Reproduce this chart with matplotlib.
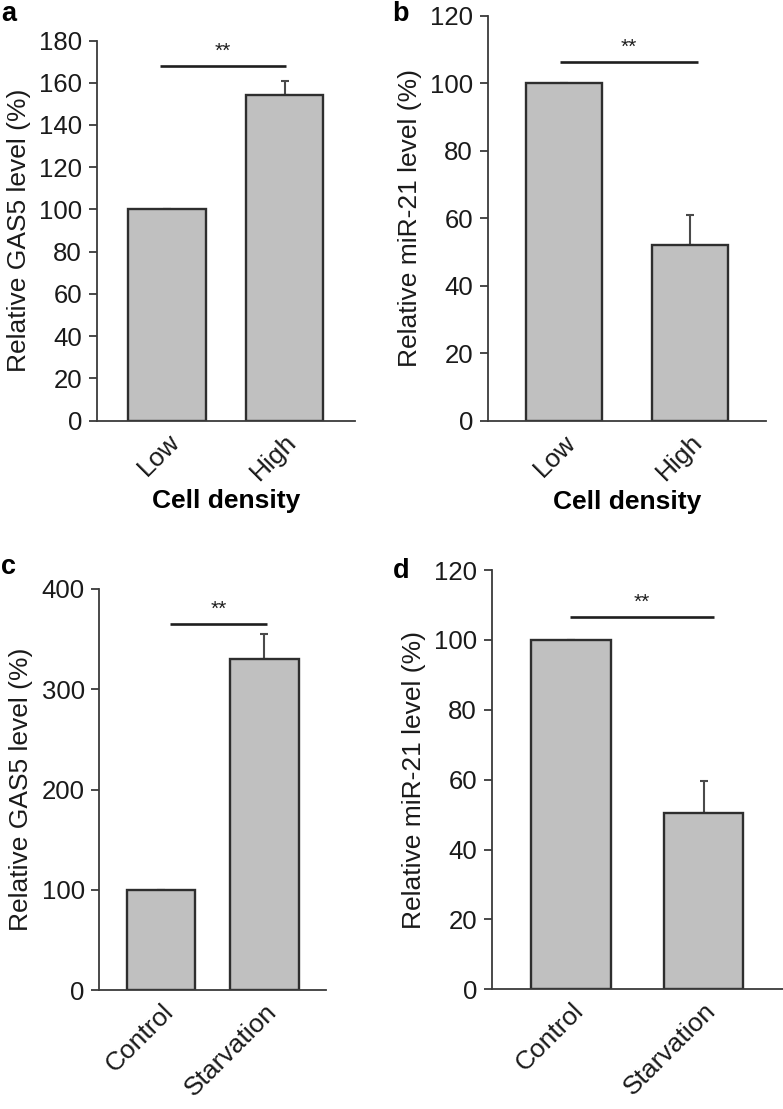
import numpy as np
import matplotlib
matplotlib.use("Agg")
import matplotlib.pyplot as plt

plt.rcParams['font.family'] = ['Liberation Sans', 'DejaVu Sans']

# Data
density_labels = ["Low", "High"]
treatment_labels = ["Control", "Starvation"]

gas5_density = [100, 154]
gas5_density_err = [0, 7]
mir21_density = [100, 52]
mir21_density_err = [0, 9]

gas5_starv = [100, 330]
gas5_starv_err = [0, 25]
mir21_starv = [100, 50.5]
mir21_starv_err = [0, 9]

sig_heights = [168, 106.5, 365, 106.5]

W, H = 783, 1109
fig = plt.figure(figsize=(W / 100, H / 100), dpi=100)


def rect(left, right, top, bottom):
    return [left / W, 1 - bottom / H, (right - left) / W, (bottom - top) / H]


# ---------------------------------------------
# panel setup
# ---------------------------------------------
panels = [
    dict(r=rect(96.7, 355, 40.5, 420.7), labels=density_labels, vals=gas5_density,
         err=gas5_density_err, ymax=180, step=20, width=0.66,
         ylabel="Relative GAS5 level (%)", xlabel="Cell density",
         sig=(-0.065, 1.01), letter="a", lpos=(1, 21)),
    dict(r=rect(487.7, 766, 16, 421), labels=density_labels, vals=mir21_density,
         err=mir21_density_err, ymax=120, step=20, width=0.6,
         ylabel="Relative miR-21 level (%)", xlabel="Cell density",
         sig=(-0.025, 1.06), letter="b", lpos=(392, 21)),
    dict(r=rect(99.3, 326, 589, 990), labels=treatment_labels, vals=gas5_starv,
         err=gas5_starv_err, ymax=400, step=100, width=0.667,
         ylabel="Relative GAS5 level (%)", xlabel=None,
         sig=(0.087, 1.03), letter="c", lpos=(1, 574)),
    dict(r=rect(491.7, 783, 570, 989.3), labels=treatment_labels, vals=mir21_starv,
         err=mir21_starv_err, ymax=120, step=20, width=0.6,
         ylabel="Relative miR-21 level (%)", xlabel=None,
         sig=(-0.01, 1.08), letter="d", lpos=(393, 578)),
]

axis_col = "#3a3a3a"

for p, sig_y in zip(panels, sig_heights):
    ax = fig.add_axes(p["r"])
    x = np.arange(len(p["vals"]))

    ax.bar(x, p["vals"], width=p["width"], color="#c0c0c0",
           edgecolor="#2e2e2e", linewidth=1.7, zorder=2)
    ax.errorbar(x, p["vals"], yerr=[np.zeros(len(x)), p["err"]], fmt="none",
                ecolor="#4a4a4a", elinewidth=1.5, capsize=3, capthick=1.5, zorder=1)

    ax.set_xlim(-0.6, 1.6)
    ax.set_ylim(0, p["ymax"])
    ax.set_yticks(np.arange(0, p["ymax"] + 1, p["step"]))

    ax.spines["top"].set_visible(False)
    ax.spines["right"].set_visible(False)
    for s in ["left", "bottom"]:
        ax.spines[s].set_color(axis_col)
        ax.spines[s].set_linewidth(1.3)

    ax.tick_params(axis="y", length=6, width=1.3, color=axis_col, pad=4.5,
                   labelsize=18.5, labelcolor="#1a1a1a")
    ax.tick_params(axis="x", length=0, pad=6.5, labelsize=19, labelcolor="#1a1a1a")
    ax.set_xticks(x)
    ax.set_xticklabels(p["labels"], rotation=45, ha="right", va="top",
                       rotation_mode="anchor")

    ax.set_ylabel(p["ylabel"], fontsize=19, color="#1a1a1a", labelpad=6)
    if p["xlabel"]:
        ax.set_xlabel(p["xlabel"], fontsize=19, fontweight="bold", labelpad=3)

    # significance bar
    x0, x1 = p["sig"]
    ax.plot([x0, x1], [sig_y, sig_y], color="#1e1e1e", lw=1.9,
            solid_capstyle="butt", clip_on=False)
    ax.text((x0 + x1) / 2, sig_y + p["ymax"] * 0.012, "**", ha="center",
            va="bottom", fontsize=15, color="#1e1e1e")

    lx, ly = p["lpos"]
    fig.text(lx / W, 1 - ly / H, p["letter"], fontsize=19.5, fontweight="bold",
             ha="left", va="baseline")

fig.savefig("out.png", dpi=100)
